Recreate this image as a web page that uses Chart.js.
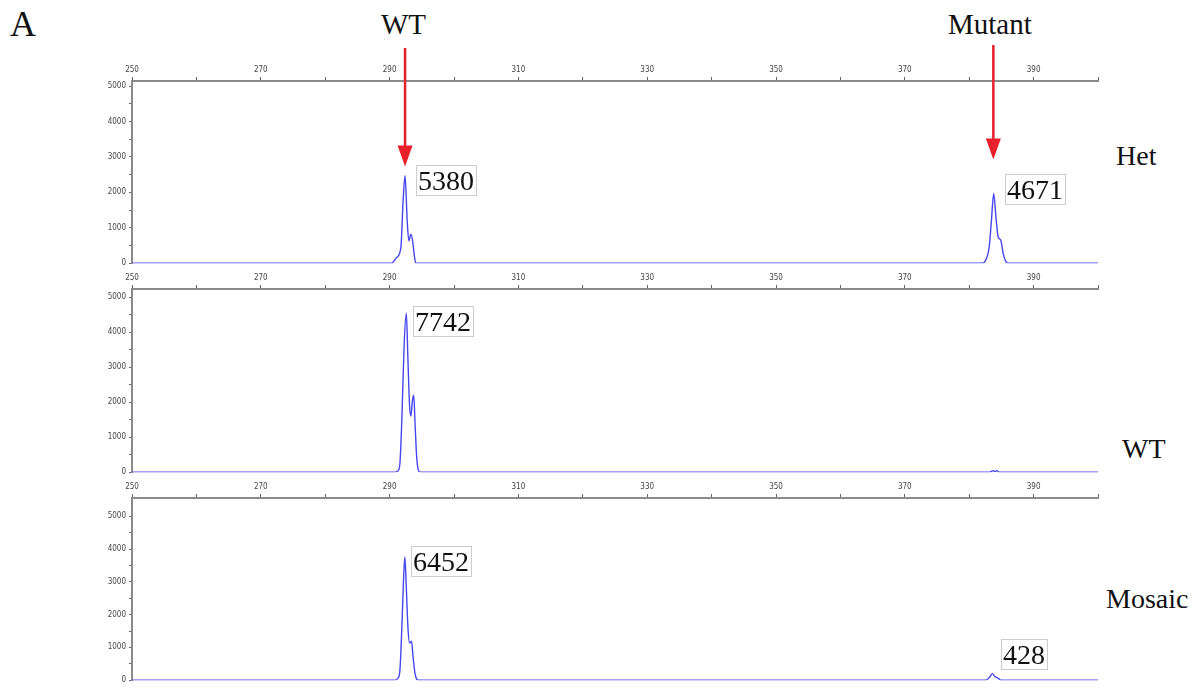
<!DOCTYPE html>
<html><head><meta charset="utf-8">
<script src="https://cdn.jsdelivr.net/npm/chart.js@4.4.1/dist/chart.umd.min.js"></script>
<style>
html,body{margin:0;padding:0;background:#fff;width:1196px;height:688px;overflow:hidden;position:relative}
.p{position:absolute;left:0;width:1196px}
.t{position:absolute;font-family:'Liberation Serif','Times New Roman',serif;font-size:28px;color:#111;line-height:1;white-space:nowrap}
</style></head><body>
<div class="t" style="left:10px;top:6px;font-size:36px">A</div>
<div class="t" style="left:381px;top:10px;font-size:29px">WT</div>
<div class="t" style="left:948px;top:10px;font-size:29px">Mutant</div>
<div class="t" style="left:1116px;top:142px">Het</div>
<div class="t" style="left:1122px;top:435px">WT</div>
<div class="t" style="left:1106px;top:585px">Mosaic</div>
<div class="p" style="top:0;height:271px"><canvas id="c1"></canvas></div>
<div class="p" style="top:268px;height:212px"><canvas id="c2"></canvas></div>
<div class="p" style="top:477px;height:211px"><canvas id="c3"></canvas></div>
<script>
// ---- data ----
const xTickValues = [250,260,270,280,290,300,310,320,330,340,350,360,370,380,390,400];
const xTickLabels = [250,270,290,310,330,350,370,390];
const yTickValues = [0,500,1000,1500,2000,2500,3000,3500,4000,4500,5000];
const yTickLabels = [0,1000,2000,3000,4000,5000];
const hetTrace = [[250,0],[290.3,0],[291.1,160],[291.75,440],[292.1,1770],[292.4,2470],[292.73,1200],[292.99,630],[293.3,820],[293.57,630],[293.85,200],[294.08,0],
  [382.0,0],[382.6,100],[383.1,450],[383.45,1200],[383.8,1960],[384.2,1200],[384.5,740],[384.9,650],[385.3,250],[385.75,30],[386.0,0],[400,0]];
const wtTrace = [[250,0],[290.8,0],[291.3,40],[291.6,250],[291.9,1500],[292.25,3600],[292.6,4540],[292.85,3200],[293.1,1900],[293.3,1600],[293.55,2050],[293.75,2200],[293.95,1400],[294.2,450],[294.5,40],[294.8,0],
  [383.2,0],[383.7,45],[384.0,20],[384.3,45],[384.7,0],[400,0]];
const mosaicTrace = [[250,0],[290.8,0],[291.3,60],[291.6,300],[291.9,1600],[292.15,3000],[292.37,3760],[292.6,2800],[292.85,1600],[293.1,1130],[293.4,1190],[293.65,700],[293.95,200],[294.25,20],[294.5,0],
  [382.6,0],[383.2,100],[383.6,200],[383.95,120],[384.5,60],[384.9,0],[400,0]];
const hetAreas = ['5380','4671'];
const wtAreas = ['7742'];
const mosaicAreas = ['6452','428'];
const yMax = [5142, 5230, 5558];

// ---- layout of annotations (data coordinates) ----
const hetBoxPos = [{x:294.03,y:2760},{x:385.55,y:2525}];
const wtBoxPos = [{x:293.66,y:4735}];
const mosaicBoxPos = [{x:293.3,y:4085},{x:384.9,y:1271}];
const arrowPos = [{x:292.4,tip:2730,top:48},{x:383.75,tip:2930,top:45}];

function annotPlugin(texts, pos, arrows){
  return {id:'annot', afterDraw(chart){
    const ctx=chart.ctx, xs=chart.scales.x, ys=chart.scales.y;
    ctx.save();
    ctx.font='28px "Liberation Serif", "Times New Roman", serif';
    ctx.textBaseline='alphabetic';
    texts.forEach((t,i)=>{
      const x=Math.round(xs.getPixelForValue(pos[i].x)), y=Math.round(ys.getPixelForValue(pos[i].y));
      const w=Math.round(ctx.measureText(t).width)+4, h=30;
      ctx.fillStyle='#fff'; ctx.fillRect(x,y,w,h);
      ctx.strokeStyle='#cccccc'; ctx.lineWidth=1; ctx.strokeRect(x+0.5,y+0.5,w,h);
      ctx.fillStyle='#111'; ctx.fillText(t,x+2,y+25);
    });
    (arrows||[]).forEach(a=>{
      const x=xs.getPixelForValue(a.x), tip=ys.getPixelForValue(a.tip);
      const hl=21, hw=7.5;
      ctx.strokeStyle='#e8202a'; ctx.fillStyle='#e8202a'; ctx.lineWidth=2.5;
      ctx.beginPath(); ctx.moveTo(x,a.top); ctx.lineTo(x,tip-hl+2); ctx.stroke();
      ctx.beginPath(); ctx.moveTo(x-hw,tip-hl); ctx.lineTo(x+hw,tip-hl); ctx.lineTo(x,tip); ctx.closePath(); ctx.fill();
    });
    ctx.restore();
  }};
}

function makeChart(id, trace, ymax, axisH, texts, pos, arrows){
  const tickFont={family:'"DejaVu Sans Condensed","Liberation Sans",sans-serif', size:8};
  return new Chart(document.getElementById(id), {
    type:'line',
    data:{datasets:[{data:trace.map(p=>({x:p[0],y:p[1]})), borderColor:'#4646f0', borderWidth:1.4, pointRadius:0, cubicInterpolationMode:'monotone', fill:false}]},
    options:{
      responsive:true, maintainAspectRatio:false, animation:false,
      layout:{padding:{left:0,right:98,top:0,bottom:6}},
      plugins:{legend:{display:false}, tooltip:{enabled:false}},
      scales:{
        x:{type:'linear', position:'top', min:250, max:400,
          afterFit(s){s.height=axisH;},
          afterBuildTicks(s){s.ticks=xTickValues.map(v=>({value:v}));},
          ticks:{autoSkip:false, maxRotation:0, padding:2, color:'#444', font:tickFont,
            callback:v=> xTickLabels.includes(Math.round(v))? String(Math.round(v)):''},
          grid:{display:true, drawOnChartArea:false, drawTicks:true, tickLength:4, color:'#666'},
          border:{display:true, color:'#8a8a8a', width:2}},
        y:{type:'linear', min:0, max:ymax,
          afterFit(s){s.width=132;},
          afterBuildTicks(s){s.ticks=yTickValues.map(v=>({value:v}));},
          ticks:{autoSkip:false, padding:3, color:'#444', font:tickFont,
            callback:v=> yTickLabels.includes(Math.round(v))? String(Math.round(v)):''},
          grid:{display:true, drawOnChartArea:false, drawTicks:true, tickLength:3, color:'#666'},
          border:{display:true, color:'#8a8a8a', width:2}}
      }
    },
    plugins:[annotPlugin(texts,pos,arrows)]
  });
}
makeChart('c1', hetTrace, yMax[0], 81, hetAreas, hetBoxPos, arrowPos);
makeChart('c2', wtTrace, yMax[1], 21, wtAreas, wtBoxPos, null);
makeChart('c3', mosaicTrace, yMax[2], 21, mosaicAreas, mosaicBoxPos, null);
</script>
</body></html>
